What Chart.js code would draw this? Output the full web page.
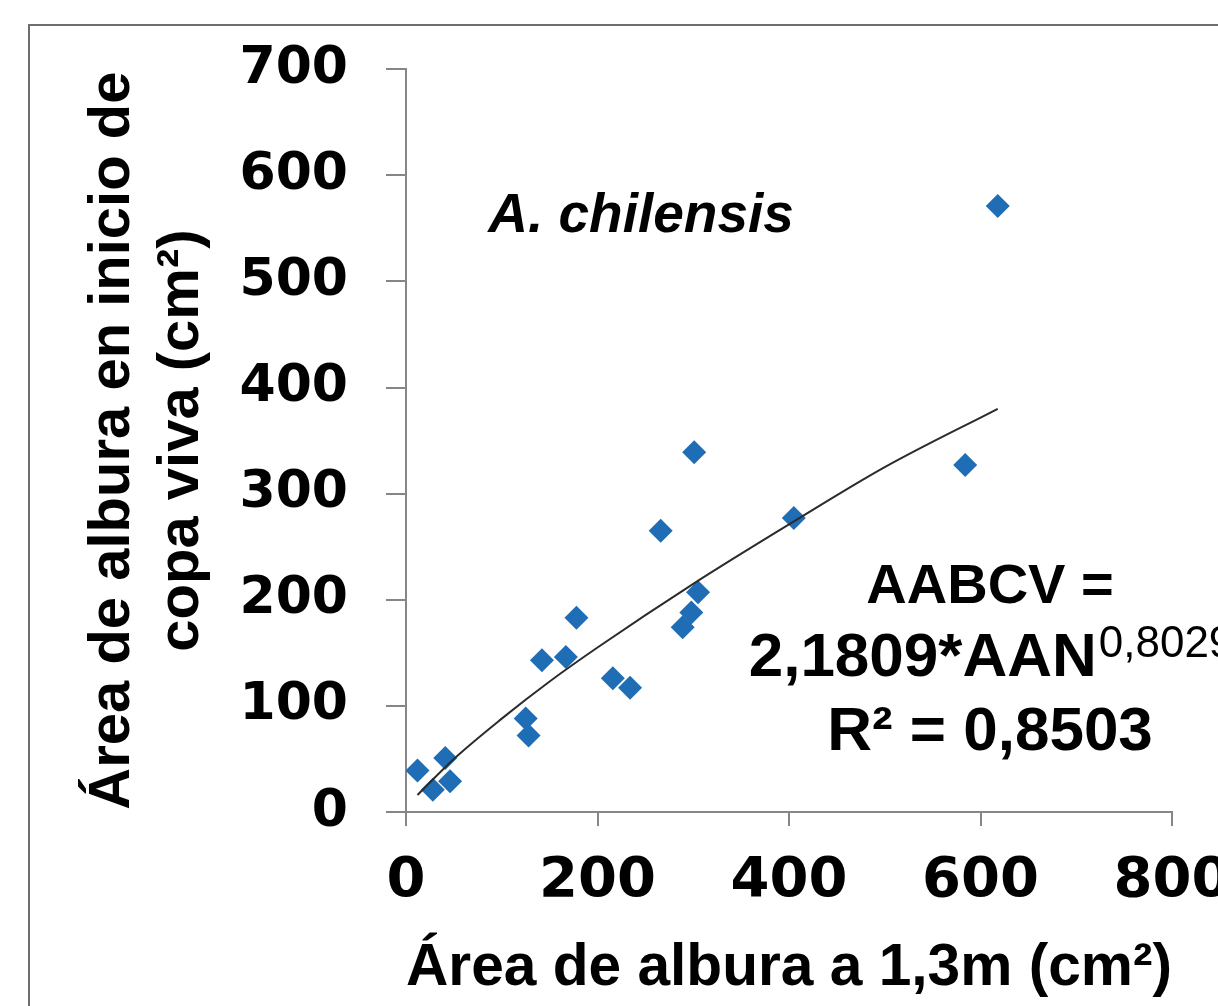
<!DOCTYPE html>
<html>
<head>
<meta charset="utf-8">
<script src="https://cdn.jsdelivr.net/npm/chart.js@4/dist/chart.umd.min.js"></script>
<style>
  html, body { margin: 0; padding: 0; background: #fff; overflow: hidden; }
</style>
</head>
<body>
<canvas id="myChart" width="1300" height="1006"></canvas>
<script>
// sapwood area at 1.3 m (x) vs sapwood area at live crown base (y), cm2
let xValues = [12, 28, 41, 46, 125, 128, 142, 167, 178, 216, 234, 266, 289, 298, 301, 305, 405, 584, 618];
let yValues = [39, 21, 51, 29, 88, 72, 143, 146, 183, 126, 117, 265, 174, 188, 339, 207, 277, 327, 571];

// power trend line
let trendX = [12, 50, 100, 150, 200, 300, 400, 500, 618];
let trendY = [16, 50, 88, 123, 155, 215, 271, 325, 380];

let xTicks = [0, 200, 400, 600, 800];
let yTicks = [0, 100, 200, 300, 400, 500, 600, 700];

let points = xValues.map((x, i) => ({x: x, y: yValues[i]}));
let trend = trendX.map((x, i) => ({x: x, y: trendY[i]}));

const axisGray = '#868686';

// frame and text notes
const notes = {
  id: 'notes',
  beforeDraw(chart) {
    let c = chart.ctx;
    c.save();
    c.fillStyle = '#fff';
    c.fillRect(0, 0, chart.width, chart.height);
    c.strokeStyle = '#6e6e6e';
    c.lineWidth = 2;
    c.strokeRect(29, 25, 2000, 2000);
    c.restore();
  },
  afterDraw(chart) {
    let c = chart.ctx;
    c.save();
    c.fillStyle = '#000';
    c.textAlign = 'center';
    c.textBaseline = 'alphabetic';
    c.font = 'italic bold 55px "Liberation Sans"';
    c.fillText('A. chilensis', 641, 232);

    let cx = 990;
    c.font = 'bold 56px "Liberation Sans"';
    c.fillText('AABCV =', cx, 603);
    c.font = 'bold 62px "Liberation Sans"';
    c.fillText('R² = 0,8503', cx, 750);

    // line with superscript exponent
    let main = '2,1809*AAN', sup = '0,8029';
    c.font = 'bold 62px "Liberation Sans"';
    let w1 = c.measureText(main).width;
    c.font = '44px "Liberation Sans"';
    let w2 = c.measureText(sup).width;
    let x0 = cx - (w1 + w2) / 2;
    c.textAlign = 'left';
    c.font = 'bold 62px "Liberation Sans"';
    c.fillText(main, x0, 676);
    c.font = '44px "Liberation Sans"';
    c.fillText(sup, x0 + w1 + 2, 657);
    c.restore();
  }
};

let ctx = document.getElementById('myChart').getContext('2d');
let chart = new Chart(ctx, {
  type: 'scatter',
  data: {
    datasets: [{
      type: 'line',
      label: 'Tendencia',
      data: trend,
      borderColor: '#2b2b2b',
      borderWidth: 2,
      pointRadius: 0,
      fill: false,
      tension: 0.4,
      cubicInterpolationMode: 'monotone',
      order: 0
    }, {
      label: 'A. chilensis',
      data: points,
      pointStyle: 'rectRot',
      pointRadius: 12,
      pointBackgroundColor: '#1f6db5',
      pointBorderColor: '#1f6db5',
      pointBorderWidth: 0,
      order: 1
    }]
  },
  options: {
    responsive: false,
    animation: false,
    layout: { padding: { left: 0, top: 64, right: 128, bottom: 0 } },
    plugins: {
      legend: { display: false },
      tooltip: { enabled: false }
    },
    scales: {
      x: {
        type: 'linear',
        min: 0,
        max: 800,
        afterBuildTicks: s => { s.ticks = xTicks.map(v => ({value: v})); },
        afterFit: s => { s.height = 194; },
        border: { display: true, color: axisGray, width: 2 },
        grid: { drawOnChartArea: false, drawTicks: true, tickLength: 14, color: axisGray, lineWidth: 2 },
        ticks: {
          autoSkip: false,
          maxRotation: 0,
          padding: 22,
          color: '#000',
          font: { family: 'DejaVu Sans', weight: 'bold', size: 56 }
        },
        title: {
          display: true,
          text: 'Área de albura a 1,3m (cm²)',
          color: '#000',
          font: { family: 'Liberation Sans', weight: 'bold', size: 60 },
          padding: { top: 0, bottom: 2 }
        }
      },
      y: {
        type: 'linear',
        min: 0,
        max: 700,
        afterBuildTicks: s => { s.ticks = yTicks.map(v => ({value: v})); },
        afterFit: s => { s.width = 406; },
        border: { display: true, color: axisGray, width: 2 },
        grid: { drawOnChartArea: false, drawTicks: true, tickLength: 20, color: axisGray, lineWidth: 2 },
        ticks: {
          padding: 38,
          color: '#000',
          font: { family: 'DejaVu Sans', weight: 'bold', size: 52 }
        },
        title: {
          display: true,
          text: ['Área de albura en inicio de', 'copa viva (cm²)'],
          color: '#000',
          font: { family: 'Liberation Sans', weight: 'bold', size: 58, lineHeight: 1.2 },
          padding: { top: 78, bottom: 0 }
        }
      }
    }
  },
  plugins: [notes]
});
</script>
</body>
</html>
